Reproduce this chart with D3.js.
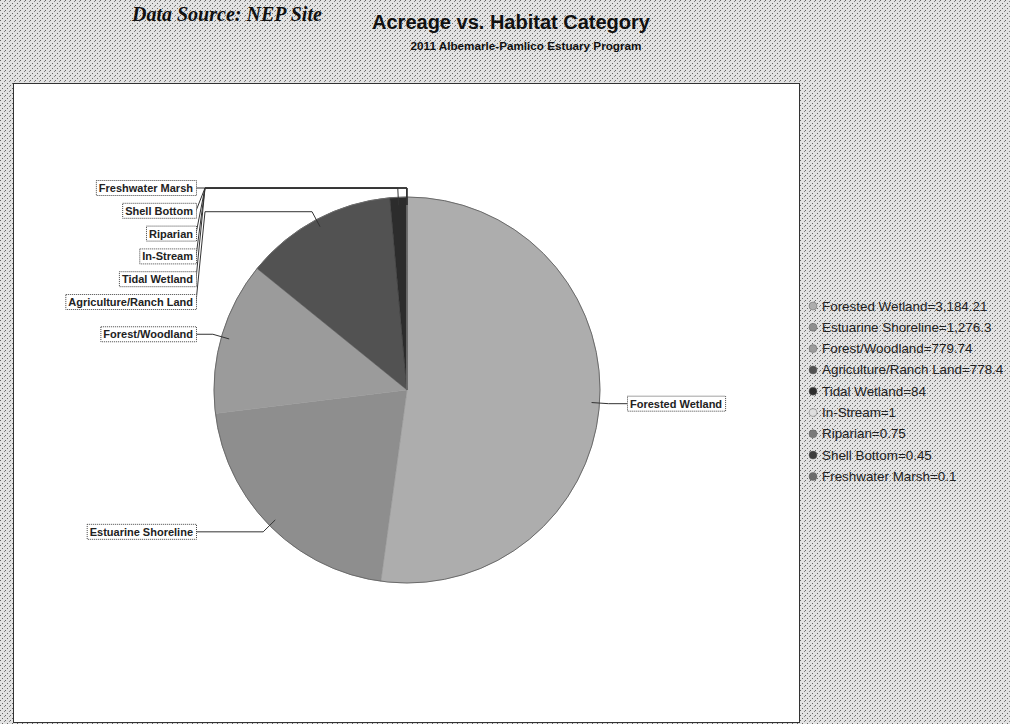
<!DOCTYPE html>
<html>
<head>
<meta charset="utf-8">
<script src="https://cdn.jsdelivr.net/npm/d3@7"></script>
<style>
  body { margin: 0; background: #fff; }
  svg { display: block; }
</style>
</head>
<body>
<div id="chart"></div>
<script>
// habitat categories and acreage
var categories = ["Forested Wetland", "Estuarine Shoreline", "Forest/Woodland", "Agriculture/Ranch Land",
                  "Tidal Wetland", "In-Stream", "Riparian", "Shell Bottom", "Freshwater Marsh"];
var acreage = [3184.21, 1276.3, 779.74, 778.4, 84, 1, 0.75, 0.45, 0.1];
var legendText = ["3,184.21", "1,276.3", "779.74", "778.4", "84", "1", "0.75", "0.45", "0.1"];
var sliceColors = ["#adadad", "#8e8e8e", "#9b9b9b", "#525252", "#2c2c2c", "#dedede", "#7a7a7a", "#3c3c3c", "#6c6c6c"];

var W = 1010, H = 724;
var cx = 407, cy = 390, radius = 193;

var svg = d3.select("#chart").append("svg")
    .attr("width", W)
    .attr("height", H);

// halftone-ish background like the scan
var defs = svg.append("defs");
var pat = defs.append("pattern")
    .attr("id", "stipple")
    .attr("width", 5).attr("height", 5)
    .attr("patternUnits", "userSpaceOnUse");
pat.append("rect").attr("width", 5).attr("height", 5).attr("fill", "#e2e2e2");
pat.append("rect").attr("x", 0).attr("y", 0).attr("width", 1).attr("height", 1).attr("fill", "#666");
pat.append("rect").attr("x", 2).attr("y", 3).attr("width", 1).attr("height", 1).attr("fill", "#666");
pat.append("rect").attr("x", 4).attr("y", 1).attr("width", 1).attr("height", 1).attr("fill", "#888");

svg.append("rect").attr("width", W).attr("height", H).attr("fill", "url(#stipple)");

// data source line at the top of the scan
svg.append("text")
    .attr("x", 132).attr("y", 21)
    .style("font-family", "'Liberation Serif', serif")
    .style("font-weight", "bold")
    .style("font-style", "italic")
    .style("font-size", "20px")
    .attr("fill", "#111")
    .text("Data Source: NEP Site");

// titles
svg.append("text")
    .attr("x", 511).attr("y", 29)
    .attr("text-anchor", "middle")
    .style("font-family", "'Liberation Sans', Arial, sans-serif")
    .style("font-weight", "bold")
    .style("font-size", "20px")
    .attr("fill", "#111")
    .text("Acreage vs. Habitat Category");

svg.append("text")
    .attr("x", 526).attr("y", 50)
    .attr("text-anchor", "middle")
    .style("font-family", "'Liberation Sans', Arial, sans-serif")
    .style("font-weight", "bold")
    .style("font-size", "11.7px")
    .attr("fill", "#111")
    .text("2011 Albemarle-Pamlico Estuary Program");

// plot area
svg.append("rect")
    .attr("x", 13.5).attr("y", 83.5)
    .attr("width", 786).attr("height", 639)
    .attr("fill", "#fff")
    .attr("stroke", "#333")
    .attr("stroke-width", 1);

var data = categories.map(function(c, i) { return {name: c, value: acreage[i], color: sliceColors[i], i: i}; });

var pie = d3.pie().sort(null).value(function(d) { return d.value; });
var arcs = pie(data);

var arc = d3.arc().innerRadius(0).outerRadius(radius);

var g = svg.append("g").attr("transform", "translate(" + cx + "," + cy + ")");

g.selectAll("path.slice")
    .data(arcs)
    .enter().append("path")
    .attr("class", "slice")
    .attr("d", arc)
    .attr("fill", function(d) { return d.data.color; })
    .attr("stroke", function(d) { return d.data.color; })
    .attr("stroke-width", 0.5);

// soft outline
g.append("circle").attr("r", radius).attr("fill", "none").attr("stroke", "#6a6a6a").attr("stroke-width", 1);

// label placement, roughly the way JFreeChart does it
function pt(a, r) { return [cx + r * Math.sin(a), cy - r * Math.cos(a)]; }

var labels = arcs.map(function(a) {
    var mid = (a.startAngle + a.endAngle) / 2;
    var p = pt(mid, radius - 8);
    var e = pt(mid, radius + 9);
    return {name: a.data.name, mid: mid, p: p, e: e, left: mid > Math.PI, y: e[1]};
});

var leftLabels = labels.filter(function(d) { return d.left; }).sort(function(a, b) { return a.y - b.y; });
var rightLabels = labels.filter(function(d) { return !d.left; }).sort(function(a, b) { return a.y - b.y; });
var gapY = 22.8;
[leftLabels, rightLabels].forEach(function(list) {
    var prev = -Infinity;
    list.forEach(function(d) {
        d.ly = Math.max(d.y, prev + gapY);
        prev = d.ly;
    });
});

var leftEdge = 196, rightEdge = 627;
var leftBend = 205, rightBend = 616;

var links = svg.append("g").attr("fill", "none").attr("stroke", "#333").attr("stroke-width", 1);
labels.forEach(function(d) {
    var bendX = d.left ? leftBend : rightBend;
    var endX = d.left ? leftEdge : rightEdge;
    links.append("path")
        .attr("d", d3.line()([d.p, d.e, [bendX, d.e[1]], [endX, d.ly]]));
});

var boxes = svg.append("g");
labels.forEach(function(d) {
    var t = boxes.append("text")
        .attr("y", d.ly + 4)
        .style("font-family", "'Liberation Sans', Arial, sans-serif")
        .style("font-weight", "bold")
        .style("font-size", "11px")
        .attr("fill", "#222")
        .text(d.name);
    var w = t.node().getComputedTextLength();
    var bx = d.left ? leftEdge - w - 6 : rightEdge;
    t.attr("x", bx + 3);
    boxes.insert("rect", "text")
        .attr("x", bx + 0.5).attr("y", d.ly - 7.5)
        .attr("width", w + 6).attr("height", 15)
        .attr("fill", "#fff")
        .attr("stroke", "#444")
        .attr("stroke-dasharray", "1,1");
});

// legend
var legend = svg.append("g").attr("transform", "translate(813,306)");
var item = legend.selectAll("g")
    .data(data)
    .enter().append("g")
    .attr("transform", function(d, i) { return "translate(0," + (i * 21.3) + ")"; });

item.append("circle")
    .attr("r", 4)
    .attr("fill", function(d) { return d.color; })
    .attr("stroke", "#666")
    .attr("stroke-width", 0.5);

item.append("text")
    .attr("x", 9).attr("y", 4.5)
    .style("font-family", "'Liberation Sans', Arial, sans-serif")
    .style("font-size", "13.4px")
    .attr("fill", "#222")
    .text(function(d) { return d.name + "=" + legendText[d.i]; });
</script>
</body>
</html>
